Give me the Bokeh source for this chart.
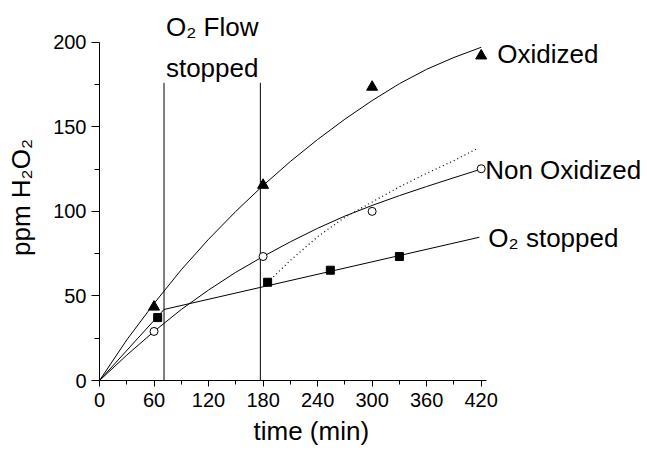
from bokeh.plotting import figure
from bokeh.models import FixedTicker, Label, Title
from bokeh.embed import file_html
from bokeh.resources import INLINE

FONT = "Liberation Sans"

# Measured H2O2 concentrations (ppm) against time (min)
sample_t = [60, 180, 300, 420]
oxidized = [43.5, 115.5, 173.5, 192]
non_oxidized = [29, 73.3, 100, 125.2]

stopped_t = [64, 185, 254, 330]
o2_stopped = [37.2, 58.1, 65.2, 73.3]

# Fitted trend curves
fit_t = [0, 30, 60, 90, 120, 150, 180, 210, 240, 270, 300, 330, 360, 390, 420]
oxidized_fit = [0, 24, 45.5, 65.5, 83.5, 100, 115.3, 129.5, 142.5, 154.5,
                165.5, 175.5, 184, 191, 197]
non_oxidized_fit = [0, 15, 29, 42, 53.5, 64, 73.3, 82, 90, 97.2, 103.5,
                    109.3, 114.7, 119.9, 125]

stopped_fit_t = [0, 71, 418]
stopped_fit = [0, 42, 84.7]

# Projected course after the O2 flow stop (dotted)
proj_t = [185, 210, 240, 270, 300, 330, 360, 390, 415]
proj = [58, 71, 85, 96.5, 105.5, 114.5, 122.5, 130, 137]

# Times where the O2 flow was stopped
event_t = [71, 177]
event_top = 176

x_ticks = [0, 60, 120, 180, 240, 300, 360, 420]
x_minor = [30, 90, 150, 210, 270, 330, 390]
y_ticks = [0, 50, 100, 150, 200]
y_minor = [25, 75, 125, 175]
x_axis_span = (0, 425.5)
y_axis_span = (0, 200)

# The frame reaches the right and top edges so the notes beside the
# curves stay visible; the axes themselves are bounded to their spans.
p = figure(width=647, height=452, x_range=(0, 603), y_range=(0, 216.4),
           output_backend="svg", toolbar_location=None,
           min_border_left=99, min_border_right=0,
           min_border_top=14, min_border_bottom=72)
p.outline_line_color = None
p.xgrid.visible = False
p.ygrid.visible = False
p.background_fill_color = "white"
p.border_fill_color = "white"

# fitted curves
p.line(fit_t, oxidized_fit, line_color="black", line_width=1)
p.line(fit_t, non_oxidized_fit, line_color="black", line_width=1)
p.line(stopped_fit_t, stopped_fit, line_color="black", line_width=1)
p.line(proj_t, proj, line_color="black", line_width=1.2, line_dash="1 3")

# event lines
p.segment(x0=event_t, y0=[0, 0], x1=event_t, y1=[event_top, event_top],
          line_color="black", line_width=1)

# measured points
p.scatter(sample_t, oxidized, marker="triangle", size=11,
          fill_color="black", line_color="black")
p.scatter(sample_t, non_oxidized, marker="circle", size=8,
          fill_color="white", line_color="black", line_width=1)
p.scatter(stopped_t, o2_stopped, marker="square", size=8,
          fill_color="black", line_color="black")

# axes
for ax in (p.xaxis[0], p.yaxis[0]):
    ax.axis_line_color = "black"
    ax.axis_line_width = 1
    ax.major_tick_line_color = "black"
    ax.minor_tick_line_color = "black"
    ax.major_tick_in = 0
    ax.minor_tick_in = 0
    ax.major_label_text_font = FONT
    ax.major_label_text_font_size = "20px"
    ax.major_label_text_color = "black"
    ax.axis_label_text_font = FONT
    ax.axis_label_text_font_size = "26px"
    ax.axis_label_text_font_style = "normal"
    ax.axis_label_text_color = "black"

p.xaxis.bounds = x_axis_span
p.yaxis.bounds = y_axis_span
p.xaxis.ticker = FixedTicker(ticks=x_ticks, minor_ticks=x_minor)
p.yaxis.ticker = FixedTicker(ticks=y_ticks, minor_ticks=y_minor)
p.xaxis.major_tick_out = 6
p.xaxis.minor_tick_out = 4
p.yaxis.major_tick_out = 8
p.yaxis.minor_tick_out = 5
p.xaxis.major_label_standoff = 6
p.yaxis.major_label_standoff = 5
p.yaxis.axis_label = "ppm H\u2082O\u2082"
p.yaxis.axis_label_standoff = 14

# x-axis title, set under the bounded axis
p.add_layout(Title(text="time (min)", align="left", offset=154,
                   text_font=FONT, text_font_size="26px",
                   text_font_style="normal", text_color="black",
                   text_baseline="alphabetic", standoff=9), "below")


def note(text, x, y, dx=0, dy=0, align="left"):
    p.add_layout(Label(x=x, y=y, x_offset=dx, y_offset=dy, text=text,
                       text_font=FONT, text_font_size="26px",
                       text_color="black", text_align=align,
                       text_baseline="middle"))


mid = (event_t[0] + event_t[1]) / 2
note("O\u2082 Flow", mid, event_top, dy=56, align="center")
note("stopped", mid, event_top, dy=15, align="center")

note("Oxidized", sample_t[-1], oxidized[-1], dx=16, dy=2)
note("Non Oxidized", sample_t[-1], non_oxidized[-1], dx=4, dy=-1)
note("O\u2082 stopped", stopped_fit_t[-1], stopped_fit[-1], dx=9, dy=-1)

open("out.html", "w").write(file_html(p, INLINE))
